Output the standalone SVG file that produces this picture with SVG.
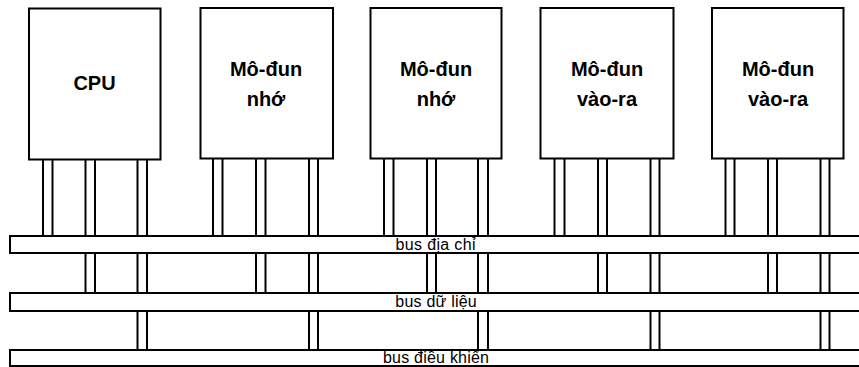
<svg xmlns="http://www.w3.org/2000/svg" width="859" height="367" viewBox="0 0 859 367">
<style>
.box{fill:#fff;stroke:#000;stroke-width:2}
.bus{fill:#fff;stroke:#000;stroke-width:2}
.pin{fill:none;stroke:#000;stroke-width:2}
.lbl{font-family:"Liberation Sans",Arial,sans-serif;font-size:20px;font-weight:bold;text-anchor:middle;fill:#000}
.blbl{font-family:"Liberation Sans",Arial,sans-serif;font-size:16px;text-anchor:middle;fill:#000}
</style>
<rect width="859" height="367" fill="#fff"/>
<g id="connectors">
<path class="pin" d="M43 159.5V236M52.5 159.5V236"/>
<path class="pin" d="M85.5 159.5V236M95 159.5V236M85.5 253V293M95 253V293"/>
<path class="pin" d="M137.5 159.5V236M147 159.5V236M137.5 253V293M147 253V293M137.5 311V350M147 311V350"/>
<path class="pin" d="M213 158.5V236M222.5 158.5V236"/>
<path class="pin" d="M256 158.5V236M265.5 158.5V236M256 253V293M265.5 253V293"/>
<path class="pin" d="M309 158.5V236M318 158.5V236M309 253V293M318 253V293M309 311V350M318 311V350"/>
<path class="pin" d="M384 158.5V236M393.5 158.5V236"/>
<path class="pin" d="M427 158.5V236M436 158.5V236M427 253V293M436 253V293"/>
<path class="pin" d="M478 158.5V236M488 158.5V236M478 253V293M488 253V293M478 311V350M488 311V350"/>
<path class="pin" d="M554.5 158.5V236M564.5 158.5V236"/>
<path class="pin" d="M598 158.5V236M607 158.5V236M598 253V293M607 253V293"/>
<path class="pin" d="M650.5 158.5V236M659.5 158.5V236M650.5 253V293M659.5 253V293M650.5 311V350M659.5 311V350"/>
<path class="pin" d="M725.5 158.5V236M734.5 158.5V236"/>
<path class="pin" d="M768 158.5V236M777 158.5V236M768 253V293M777 253V293"/>
<path class="pin" d="M820.5 158.5V236M829.5 158.5V236M820.5 253V293M829.5 253V293M820.5 311V350M829.5 311V350"/>
</g>
<g id="cpu">
<rect class="box" x="29" y="8.5" width="131.5" height="151"/>
<text class="lbl" x="94.5" y="89.5">CPU</text>
</g>
<g id="mem1">
<rect class="box" x="200.5" y="8" width="132.5" height="150.5"/>
<text class="lbl" x="266" y="75.5">Mô-đun</text>
<text class="lbl" x="266" y="106">nhớ</text>
</g>
<g id="mem2">
<rect class="box" x="370.5" y="8" width="131" height="150.5"/>
<text class="lbl" x="436" y="75.5">Mô-đun</text>
<text class="lbl" x="436" y="106">nhớ</text>
</g>
<g id="io1">
<rect class="box" x="540.5" y="8" width="133" height="150.5"/>
<text class="lbl" x="607" y="75.5">Mô-đun</text>
<text class="lbl" x="607" y="106">vào-ra</text>
</g>
<g id="io2">
<rect class="box" x="712" y="8" width="131.5" height="150.5"/>
<text class="lbl" x="778" y="75.5">Mô-đun</text>
<text class="lbl" x="778" y="106">vào-ra</text>
</g>
<g id="bus-address">
<rect class="bus" x="10" y="236" width="870" height="17"/>
<text class="blbl" x="435.5" y="249.5" textLength="80">bus địa chỉ</text>
</g>
<g id="bus-data">
<rect class="bus" x="10" y="293" width="870" height="18"/>
<text class="blbl" x="436" y="306.5" textLength="81.5">bus dữ liệu</text>
</g>
<g id="bus-control">
<rect class="bus" x="10" y="350" width="870" height="16"/>
<text class="blbl" x="436" y="362.5" textLength="106">bus điều khiển</text>
</g>
</svg>
